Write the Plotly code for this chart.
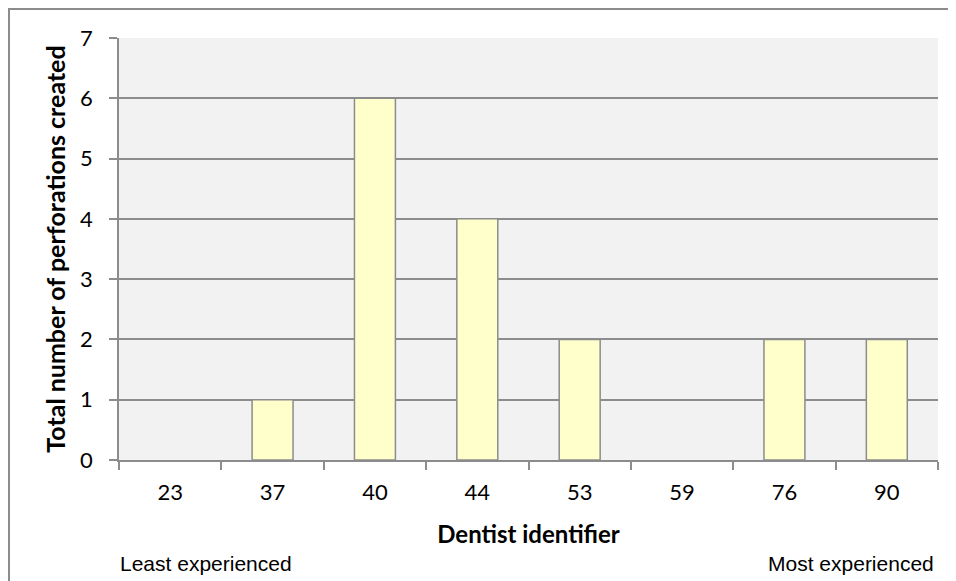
import plotly.graph_objects as go

dentists = ["23", "37", "40", "44", "53", "59", "76", "90"]
perforations = [0, 1, 6, 4, 2, 0, 2, 2]
y_ticks = [0, 1, 2, 3, 4, 5, 6, 7]

# page offset introduced by the default body margin
OFF = 8
W, H = 956 - OFF, 581 - OFF
L, R, T, B = 119, 938, 38, 460          # plot area in page pixels
pw, ph = R - L, B - T

def px(x):
    return (x - L) / pw

def py(y):
    return (B - y) / ph

grid = "#8C8C8C"
edge_widths = [1.5 if v > 0 else 0 for v in perforations]

fig = go.Figure(go.Bar(
    x=dentists, y=perforations,
    marker=dict(color="#FFFFCC", line=dict(color=grid, width=edge_widths)),
))

fig.update_layout(
    width=W, height=H,
    margin=dict(l=L - OFF, r=956 - R, t=T - OFF, b=581 - B),
    paper_bgcolor="white", plot_bgcolor="#F2F2F2",
    bargap=0.6, showlegend=False,
    font=dict(family="Lato", color="black"),
)
fig.update_xaxes(
    type="category", tickson="boundaries", ticks="outside", ticklen=8,
    tickcolor=grid, tickwidth=1.5, showline=True, linecolor=grid, linewidth=1.5,
    showgrid=False, tickfont=dict(size=22, family="Lato"), ticklabelstandoff=12,
    title=dict(text="<b>Dentist identifier</b>", font=dict(size=24, family="Lato"), standoff=22),
)
fig.update_yaxes(
    range=[0, 7], tickvals=y_ticks, ticks="outside", ticklen=8,
    tickcolor=grid, tickwidth=1.5, showline=True, linecolor=grid, linewidth=1.5,
    showgrid=True, gridcolor=grid, gridwidth=1.5, zeroline=False,
    tickfont=dict(size=22, family="Lato"), ticklabelstandoff=12,
    title=dict(text="<b>Total number of perforations created</b>", font=dict(size=25, family="Lato"), standoff=7),
)

fig.add_shape(type="rect", xref="paper", yref="paper",
              x0=px(9), x1=px(960), y0=py(600), y1=py(9),
              line=dict(color="#8C8C8C", width=2), fillcolor="rgba(0,0,0,0)", layer="below")

fig.add_annotation(text="Least experienced", xref="paper", yref="paper",
                   x=px(118), y=py(563), xanchor="left", yanchor="middle", showarrow=False,
                   font=dict(family="Liberation Sans", size=21, color="black"))
fig.add_annotation(text="Most experienced", xref="paper", yref="paper",
                   x=px(936), y=py(563), xanchor="right", yanchor="middle", showarrow=False,
                   font=dict(family="Liberation Sans", size=21, color="black"))

fig.write_html("out.html")
